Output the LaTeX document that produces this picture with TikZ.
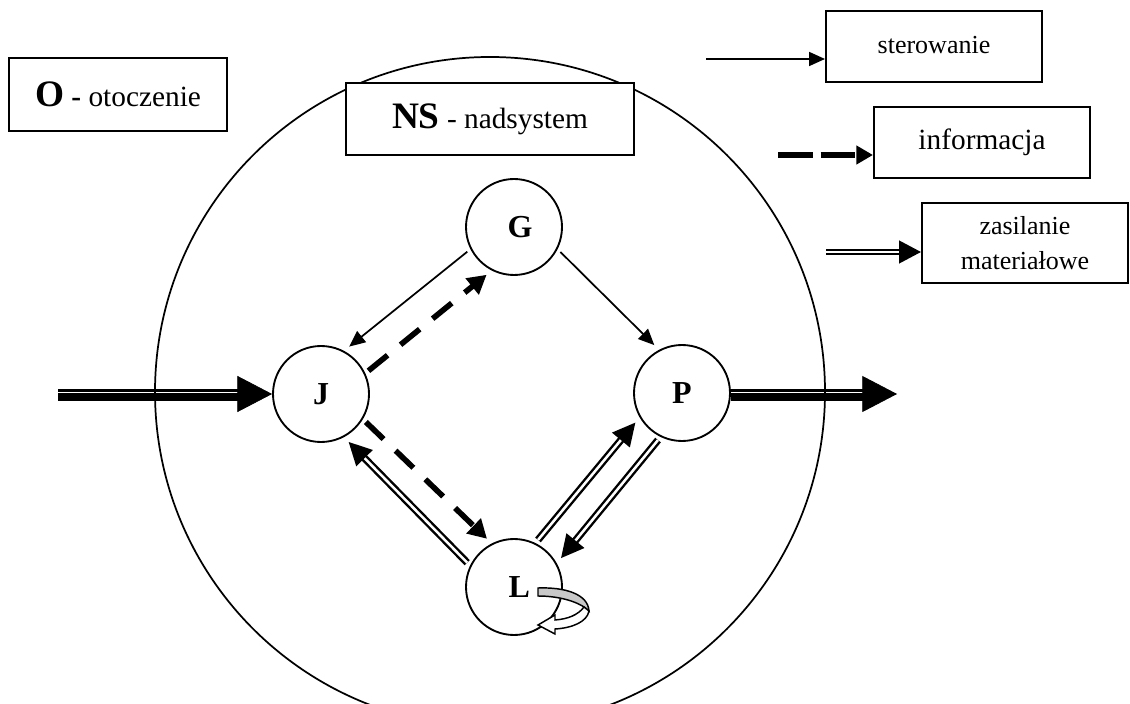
\documentclass[tikz,border=0pt]{standalone}
\usepackage{fontspec}
\setmainfont{Liberation Serif}
\usetikzlibrary{arrows.meta,calc}
\begin{document}
\begin{tikzpicture}[x=0.75pt,y=0.75pt]
\tikzset{
 bx/.style={draw, line width=1.5pt, fill=white, inner sep=0pt, align=center},
 nd/.style={circle, draw, line width=1.4pt, minimum size=72pt, inner sep=0pt, fill=white,
   font=\fontsize{24}{26}\selectfont\bfseries},
 ctl/.style={line width=1.3pt, -{Triangle[length=12pt,width=10.5pt]}},
 inf/.style={line width=4.2pt, dash pattern=on 18.5pt off 12.5pt, -{Triangle[length=14pt,width=15pt]}},
 mat/.style={double, line width=1.8pt, double distance=1.9pt, -{Triangle[length=17pt,width=17pt]}},
 conn/.style={shorten <=3pt, shorten >=5pt},
 bigtip/.style={line width=0.5pt, -{Triangle[length=26pt,width=27pt]}},
 big/.style={font=\fontsize{22}{26}\selectfont},
 small/.style={font=\fontsize{19.5}{26}\selectfont},
}
\useasboundingbox (0,0) rectangle (1130,703);

% big circle (nadsystem)
\draw[line width=1.3pt] (490,311) circle[radius=251.25pt];

% boxes
\node[bx, big, minimum width=163.5pt, minimum height=54.75pt] (O) at (118,608.5)
  {{\fontsize{28}{30}\selectfont\bfseries O} {\bfseries -} otoczenie};
\node[bx, big, minimum width=216pt, minimum height=54pt] (NS) at (490,584)
  {{\fontsize{28}{30}\selectfont\bfseries NS} - nadsystem};
\node[bx, small, minimum width=162pt, minimum height=53.25pt] (ster) at (934,656.5) {\raisebox{3pt}{sterowanie}};
\node[bx, big, minimum width=162pt, minimum height=53.25pt] (info) at (982,560.5) {\raisebox{2pt}{informacja}};
\node[bx, small, minimum width=154.5pt, minimum height=60pt] (zas) at (1025,460) {zasilanie\\materiałowe};

% legend arrows
\coordinate (s0) at (706,644);
\coordinate (i0) at (778,548);
\coordinate (z0) at (826,451);
\draw[ctl] (s0) -- (s0 -| ster.west);
\draw[line width=4.8pt, dash pattern=on 26pt off 6pt, -{Triangle[length=12.5pt,width=13.5pt]}] (i0) -- (i0 -| info.west);
\draw[double, line width=1.8pt, double distance=1.5pt, -{Triangle[length=16.5pt,width=17pt]}] (z0) -- (z0 -| zas.west);

% system nodes
\node[nd] (G) at (514,476) {\kern9pt G};
\node[nd] (J) at (321,309) {J};
\node[nd] (P) at (682,310) {P};
\node[nd] (L) at (514,116) {\kern8pt L};

% connectors
\draw[ctl, conn] (G.207) -- (J.62);
\draw[inf, conn] (J.25) -- (G.243);
\draw[ctl, conn] (G.333) -- (P.118);
\draw[inf, conn] (J.329) -- (L.117);
\draw[mat, conn] (L.154) -- (J.298);
\draw[mat, conn] (L.64) -- (P.210);
\draw[mat, conn] (P.244) -- (L.29);

% input (environment -> J)
\coordinate (inThick) at (58,305.5);
\coordinate (inThin) at (58,312.5);
\coordinate (inEnd) at (245,309);
\coordinate (inBase) at (230,309);
\draw[line width=6pt] (inThick) -- (inThick -| inEnd);
\draw[line width=2.2pt] (inThin) -- (inThin -| inEnd);
\draw[bigtip] (inBase) -- (J.west);

% output (P -> environment)
\coordinate (outThick) at (870,305.5);
\coordinate (outThin) at (870,312.5);
\coordinate (outBase) at (855,309);
\coordinate (outTip) at (897,309);
\draw[line width=6pt] (P.east |- outThick) -- (outThick);
\draw[line width=2.2pt] (P.east |- outThin) -- (outThin);
\draw[bigtip] (outBase) -- (outTip);

% self loop on L
\draw[line width=1.1pt, fill={rgb,255:red,200;green,200;blue,200}]
  (538,115) .. controls (565,116) and (588,109) .. (589,92)
  .. controls (580,101) and (560,107) .. (538,107) -- cycle;
\draw[line width=1.1pt, fill=white, line join=miter]
  (589,92) .. controls (587,81) and (572,75) .. (555,74) -- (555,69) -- (538,78) -- (555,88)
  -- (555,83) .. controls (568,84) and (578,88) .. (584,96) -- cycle;
\end{tikzpicture}
\end{document}
